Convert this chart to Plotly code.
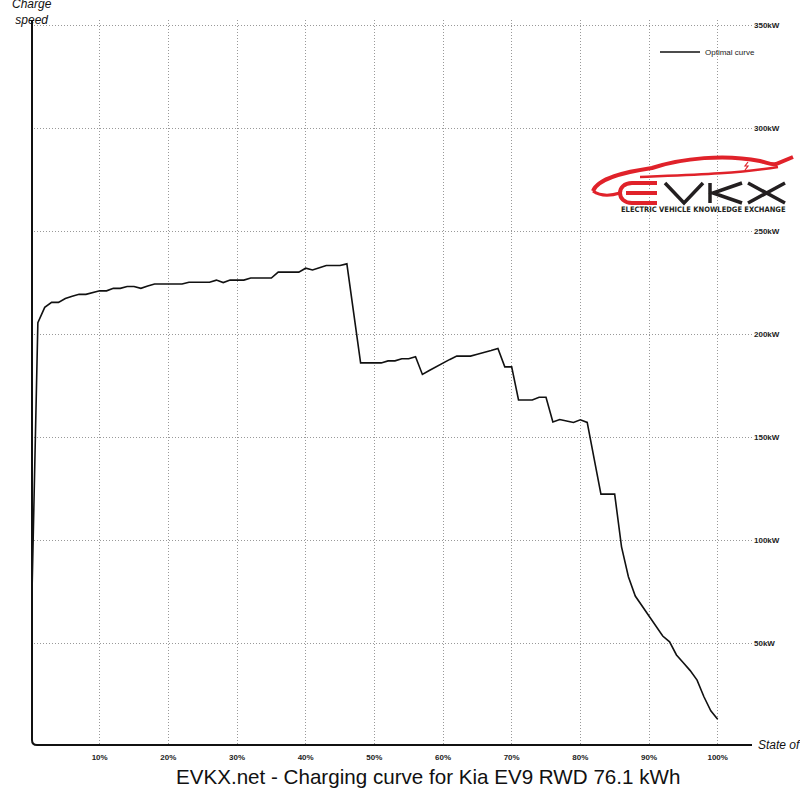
import plotly.graph_objects as go

# ---- data ----
soc = list(range(0, 101))
power_kw = [
    52, 205.5, 213, 215.4, 215.4, 217.3, 218.4, 219.3, 219.3, 220,
    221, 221, 222.2, 222.2, 223.1, 223.1, 222.2, 223.3, 224.3, 224.3,
    224.3, 224.3, 224.3, 225.2, 225.2, 225.2, 225.2, 226.2, 225, 226.2,
    226.2, 226.2, 227.2, 227.2, 227.2, 227.2, 230.1, 230.1, 230.1, 230.1,
    232, 231.1, 232.2, 233.3, 233.3, 233.3, 234.1, 210, 186, 186,
    186, 186, 187, 187, 188, 188, 189, 180.4, 182.3, 184.2,
    186, 187.7, 189.3, 189.3, 189.3, 190.2, 191, 192, 193, 184.1,
    184.1, 168, 168, 168, 169.3, 169.3, 157.3, 158.5, 157.8, 157.1,
    158.4, 157.1, 139.7, 122.3, 122.3, 122.3, 96.7, 82.2, 72.8, 68,
    63.1, 58.7, 53.4, 50.6, 44.2, 40.4, 36.6, 32, 23.9, 17.1,
    13,
]
x_ticks = [10, 20, 30, 40, 50, 60, 70, 80, 90, 100]
x_tick_labels = ["10%", "20%", "30%", "40%", "50%", "60%", "70%", "80%", "90%", "100%"]
y_ticks = [50, 100, 150, 200, 250, 300, 350]
y_tick_labels = ["50kW", "100kW", "150kW", "200kW", "250kW", "300kW", "350kW"]
series_name = "Optimal curve"
title_text = "EVKX.net - Charging curve for Kia EV9 RWD 76.1 kWh"

# ---- layout geometry (pixels) ----
W, H = 800, 790
ML, MR, MT, MB = 31, 48, 20, 44
PW, PH = W - ML - MR, H - MT - MB


def px(x):
    return (x - ML) / PW


def py(y):
    return (H - MB - y) / PH


fig = go.Figure()
fig.add_trace(go.Scatter(
    x=soc, y=power_kw, mode="lines", name=series_name,
    line=dict(color="#111111", width=1.6),
))

fig.update_layout(
    template="none",
    width=W, height=H,
    margin=dict(l=ML, r=MR, t=MT, b=MB, autoexpand=False),
    paper_bgcolor="white", plot_bgcolor="white",
    font=dict(family="Liberation Sans, Arial, sans-serif", color="#111111"),
    showlegend=True,
    legend=dict(x=px(655), y=py(52), xanchor="left", yanchor="middle",
                bgcolor="rgba(0,0,0,0)", borderwidth=0,
                font=dict(size=8, color="#222222"), itemwidth=40),
)

grid_dash = "1px,2px"
fig.update_xaxes(
    range=[0, 105], tickvals=x_ticks, ticktext=x_tick_labels,
    showgrid=True, gridcolor="#999999", griddash=grid_dash, gridwidth=1,
    zeroline=False, showline=False, ticks="", automargin=False,
    tickfont=dict(size=8, weight="bold", color="#222222"),
    ticklabelstandoff=5,
)
fig.update_yaxes(
    range=[0, 352.5], tickvals=y_ticks, ticktext=y_tick_labels, side="right",
    showgrid=True, gridcolor="#999999", griddash=grid_dash, gridwidth=1,
    zeroline=False, showline=False, ticks="", automargin=False,
    tickfont=dict(size=8, weight="bold", color="#222222"),
    ticklabelstandoff=1,
)

# axis lines with rounded lower-left corner
r = 5
fig.add_shape(
    type="path", xref="paper", yref="paper",
    path=(f"M {px(32)} {py(20)} L {px(32)} {py(745 - r)} "
          f"Q {px(32)} {py(745)} {px(32 + r)} {py(745)} L {px(752)} {py(745)}"),
    line=dict(color="#111111", width=2),
)

# axis titles
fig.add_annotation(
    xref="paper", yref="paper", x=px(32), y=py(12), xanchor="center", yanchor="middle",
    text="<i>Charge<br>speed</i>", showarrow=False,
    font=dict(size=12, color="#111111"),
)
fig.add_annotation(
    xref="paper", yref="paper", x=px(756), y=py(745), xanchor="left", yanchor="middle",
    text="<i>State of charge</i>", showarrow=False,
    font=dict(size=12, color="#111111"),
)

# chart title
fig.add_annotation(
    xref="paper", yref="paper", x=px(428), y=py(776), xanchor="center", yanchor="middle",
    text=title_text, showarrow=False,
    font=dict(size=20.6, color="#111111"),
)

# ---- EVKX logo (decorative) ----
red = "#e0222a"
dark = "#231f20"

# car outline swoosh
fig.add_shape(type="path", xref="paper", yref="paper",
              path=(f"M {px(593)} {py(191)} "
                    f"C {px(598)} {py(178)} {px(625)} {py(172)} {px(652)} {py(168)} "
                    f"C {px(682)} {py(158)} {px(725)} {py(154)} {px(760)} {py(161)} "
                    f"C {px(768)} {py(163)} {px(772)} {py(165)} {px(776)} {py(164)} "
                    f"L {px(793)} {py(157)}"),
              line=dict(color=red, width=4))
fig.add_shape(type="path", xref="paper", yref="paper",
              path=(f"M {px(640)} {py(177)} "
                    f"C {px(690)} {py(175)} {px(735)} {py(174)} {px(778)} {py(167)}"),
              line=dict(color=red, width=2.5))
fig.add_shape(type="path", xref="paper", yref="paper",
              path=(f"M {px(593)} {py(191)} "
                    f"C {px(600)} {py(196)} {px(610)} {py(196)} {px(620)} {py(193)}"),
              line=dict(color=red, width=3))
# small lightning mark
fig.add_shape(type="path", xref="paper", yref="paper",
              path=(f"M {px(748)} {py(162)} L {px(745)} {py(166)} L {px(748)} {py(166)} "
                    f"L {px(745)} {py(170)}"),
              line=dict(color=red, width=1.2))
# E
fig.add_shape(type="path", xref="paper", yref="paper",
              path=(f"M {px(657)} {py(183)} L {px(632)} {py(183)} "
                    f"C {px(616)} {py(183)} {px(616)} {py(203)} {px(632)} {py(203)} "
                    f"L {px(657)} {py(203)} M {px(626)} {py(193)} L {px(657)} {py(193)}"),
              line=dict(color=red, width=4))
# V
fig.add_shape(type="path", xref="paper", yref="paper",
              path=f"M {px(665)} {py(183)} L {px(684)} {py(203)} L {px(703)} {py(183)}",
              line=dict(color=dark, width=3.5))
# K
fig.add_shape(type="path", xref="paper", yref="paper",
              path=(f"M {px(710)} {py(183)} L {px(710)} {py(203)} "
                    f"M {px(742)} {py(183)} L {px(713)} {py(193)} L {px(742)} {py(203)}"),
              line=dict(color=dark, width=3.5))
# X
fig.add_shape(type="path", xref="paper", yref="paper",
              path=(f"M {px(748)} {py(183)} L {px(785)} {py(203)} "
                    f"M {px(785)} {py(183)} L {px(748)} {py(203)}"),
              line=dict(color=dark, width=3.5))
fig.add_annotation(
    xref="paper", yref="paper", x=px(703), y=py(210), xanchor="center", yanchor="middle",
    text="ELECTRIC VEHICLE KNOWLEDGE EXCHANGE", showarrow=False,
    font=dict(size=7.5, family="DejaVu Sans Condensed", weight="bold", color=dark),
)

fig.write_html(
    "out.html",
    config={"displayModeBar": False},
    post_script="document.body.style.margin='0';document.body.style.overflow='hidden';",
)
